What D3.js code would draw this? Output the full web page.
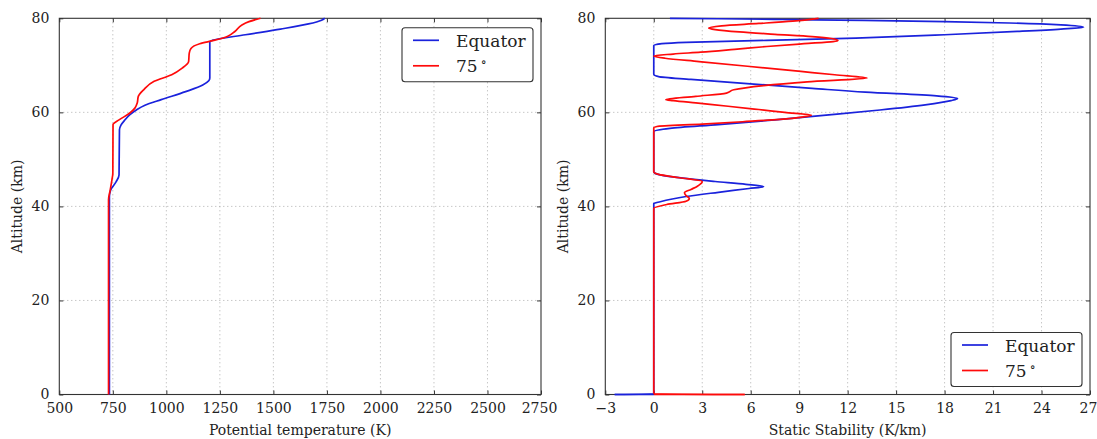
<!DOCTYPE html>
<html><head><meta charset="utf-8">
<script src="https://cdn.jsdelivr.net/npm/d3@7"></script>
<style>body{margin:0;background:#fff}</style>
</head><body><svg id="c" width="1097" height="439"></svg>
<script>
// ---------- data ----------
const altTicks = [0, 20, 40, 60, 80];
const thetaTicks = [500, 750, 1000, 1250, 1500, 1750, 2000, 2250, 2500, 2750];
const stabTicks = [-3, 0, 3, 6, 9, 12, 15, 18, 21, 24, 27];
const seriesNames = ["Equator", "75"];

// Potential temperature (K) vs altitude (km)
const thetaEqAlt = [0, 42.0, 43.5, 45.2, 46.7, 56.3, 57.3, 58.3, 59.5, 60.5, 61.5, 62.7, 64.4, 65.8, 66.7, 67.3, 75.0, 75.3, 76.5, 77.7, 78.8, 79.6, 80];
const thetaEqVal = [734, 734, 740, 765, 779, 781, 788, 805, 830, 860, 900, 976, 1090, 1170, 1198, 1203, 1203, 1215, 1369, 1533, 1664, 1725, 1740];
const theta75Alt = [0, 41.4, 43.5, 45.7, 47.0, 57.4, 58.4, 59.8, 60.9, 62.0, 63.4, 64.8, 66.6, 68.0, 69.4, 70.8, 72.6, 73.6, 74.6, 75.3, 76.2, 77.2, 78.6, 79.3, 80];
const theta75Val = [730, 730, 738, 746, 750, 751, 779, 828, 853, 864, 869, 894, 943, 1025, 1074, 1104, 1107, 1115, 1156, 1222, 1287, 1320, 1353, 1386, 1440];

// Static stability (K/km) vs altitude (km)
const stabEqAlt = [0, 0.1, 40.6, 41.0, 42.1, 43.0, 43.8, 44.2, 44.7, 45.3, 46.0, 46.7, 47.1, 47.4, 55.9, 56.6, 57.4, 58.4, 59.5, 60.5, 61.6, 62.5, 62.95, 63.5, 64.3, 65.1, 65.9, 67.0, 67.6, 68.1, 74.2, 74.6, 74.9, 75.3, 75.8, 76.5, 77.2, 77.7, 78.1, 78.6, 79.0, 79.3, 79.55, 79.75, 79.9, 80];
const stabEqVal = [-2.42, 0, 0, 0.4, 2.0, 4.0, 5.9, 6.8, 5.7, 3.8, 1.8, 0.4, 0.05, 0, 0, 1.0, 4.0, 7.5, 11.0, 14.0, 16.8, 18.4, 18.8, 17.5, 13.1, 9.8, 6.6, 2.3, 0.3, 0, 0, 0.5, 2.0, 7.0, 12.5, 18.0, 22.5, 25.2, 26.6, 25.2, 22.0, 18.0, 13.0, 8.0, 4.0, 1.0];
const stab75Alt = [0, 0.1, 39.6, 40.4, 41.1, 41.7, 42.3, 42.9, 43.6, 44.3, 45.3, 46.1, 46.8, 47.3, 56.7, 57.0, 57.5, 58.0, 58.5, 59.0, 59.4, 60.0, 60.6, 61.3, 62.0, 62.5, 62.7, 63.4, 64.1, 64.8, 65.7, 66.5, 67.3, 68.0, 68.7, 69.8, 70.8, 71.5, 72.0, 72.4, 72.8, 73.4, 74.0, 74.6, 75.05, 75.3, 75.7, 76.1, 76.6, 77.1, 77.6, 77.95, 78.4, 78.9, 79.4, 80];
const stab75Val = [5.63, 0, 0, 0.8, 2.0, 2.2, 2.0, 1.9, 2.3, 2.7, 3.0, 1.6, 0.3, 0, 0, 0.2, 3.0, 5.5, 7.8, 9.2, 9.75, 8.1, 6.5, 4.6, 2.6, 1.2, 0.75, 2.6, 4.5, 4.95, 6.8, 9.5, 13.2, 11.2, 9.1, 5.8, 2.8, 0.7, 0, 1.2, 2.9, 5.0, 7.0, 9.3, 11.1, 11.4, 11.0, 9.8, 7.5, 5.3, 3.8, 3.4, 4.2, 6.5, 8.6, 10.2];

const colors = ["#1a22dc", "#ff0a0a"];

// ---------- drawing ----------
const svg = d3.select("#c");
const FONT = "DejaVu Serif";
const yTop = 18.3, yBot = 394.5;

function zip(a, v) { return a.map((d, i) => ({ a: d, v: v[i] })); }

function panel(id, left, right, xDomain, xTicks, series, xLabel, legendAtTop) {
  const x = d3.scaleLinear().domain(xDomain).range([left, right]);
  const y = d3.scaleLinear().domain([0, 80]).range([yBot, yTop]);
  const g = svg.append("g");
  g.append("clipPath").attr("id", "clip" + id).append("rect")
    .attr("x", left).attr("y", yTop - 1.5).attr("width", right - left).attr("height", yBot - yTop + 3);

  // grid
  const grid = g.append("g").attr("stroke", "#9a9a9a").attr("stroke-width", 0.8).attr("stroke-dasharray", "1,3");
  xTicks.slice(1, -1).forEach(t => grid.append("line").attr("x1", x(t)).attr("x2", x(t)).attr("y1", yTop).attr("y2", yBot));
  altTicks.slice(1, -1).forEach(t => grid.append("line").attr("x1", left).attr("x2", right).attr("y1", y(t)).attr("y2", y(t)));

  // axes (ticks inside, all four sides)
  const tl = 4;
  const fmt = d3.format("d");
  g.append("g").attr("class", "xb").attr("transform", `translate(0,${yBot})`)
    .call(d3.axisBottom(x).tickValues(xTicks).tickFormat(fmt).tickSizeInner(-tl).tickSizeOuter(0).tickPadding(9))
    .call(a => a.select(".domain").remove());
  g.append("g").attr("transform", `translate(0,${yTop})`)
    .call(d3.axisTop(x).tickValues(xTicks).tickSizeInner(-tl).tickSizeOuter(0).tickFormat(""))
    .call(a => a.select(".domain").remove());
  g.append("g").attr("transform", `translate(${left},0)`)
    .call(d3.axisLeft(y).tickValues(altTicks).tickFormat(fmt).tickSizeInner(-tl).tickSizeOuter(0).tickPadding(10))
    .call(a => a.select(".domain").remove());
  g.append("g").attr("transform", `translate(${right},0)`)
    .call(d3.axisRight(y).tickValues(altTicks).tickSizeInner(-tl).tickSizeOuter(0).tickFormat(""))
    .call(a => a.select(".domain").remove());
  g.selectAll(".tick text").attr("font-family", FONT).attr("font-size", 14).attr("fill", "#222");
  g.selectAll(".tick line").attr("stroke", "#333");
  // keep the last bottom label inside the picture
  g.selectAll(".xb .tick text").filter((d, i, n) => i === n.length - 1).attr("dx", -2);

  // lines
  const line = d3.line().x(d => x(d.v)).y(d => y(d.a)).curve(d3.curveMonotoneY);
  const lg = g.append("g").attr("clip-path", `url(#clip${id})`);
  series.forEach((s, i) => {
    lg.append("path").datum(s).attr("d", line).attr("fill", "none")
      .attr("stroke", colors[i]).attr("stroke-width", 1.7).attr("stroke-linejoin", "round");
  });

  // frame
  g.append("rect").attr("x", left).attr("y", yTop).attr("width", right - left).attr("height", yBot - yTop)
    .attr("fill", "none").attr("stroke", "#333").attr("stroke-width", 1.1);
  // redraw series on top of bottom frame edge (as matplotlib lines sit above spines)
  series.forEach((s, i) => {
    const zero = s.filter(d => d.a <= 0.1);
    if (zero.length > 1) lg.append("path").datum(zero).attr("d", d3.line().x(d => x(d.v)).y(() => y(0)))
      .attr("fill", "none").attr("stroke", colors[i]).attr("stroke-width", 1.7);
  });
  lg.raise();

  // labels
  g.append("text").attr("x", (left + right) / 2).attr("y", 435).attr("text-anchor", "middle")
    .attr("font-family", FONT).attr("font-size", 14).attr("fill", "#222").text(xLabel);
  g.append("text").attr("transform", `translate(${left - 37},${(yTop + yBot) / 2}) rotate(-90)`)
    .attr("text-anchor", "middle").attr("font-family", FONT).attr("font-size", 14).attr("fill", "#222")
    .text("Altitude (km)");

  // legend
  const bw = 131, bh = 54;
  const bx = right - 8 - bw;
  const by = legendAtTop ? yTop + 9.5 : yBot - 8 - bh;
  const leg = g.append("g");
  leg.append("rect").attr("x", bx).attr("y", by).attr("width", bw).attr("height", bh).attr("rx", 3)
    .attr("fill", "#fff").attr("stroke", "#333").attr("stroke-width", 1.1);
  seriesNames.forEach((n, i) => {
    const ly = by + 12.5 + i * 25.5;
    leg.append("line").attr("x1", bx + 11).attr("x2", bx + 37).attr("y1", ly).attr("y2", ly)
      .attr("stroke", colors[i]).attr("stroke-width", 1.7);
    const t = leg.append("text").attr("x", bx + 54).attr("y", ly + 6.5)
      .attr("font-family", FONT).attr("font-size", 17).attr("fill", "#222").text(n);
    if (i === 1) t.append("tspan").attr("dx", 3).attr("dy", -6).attr("font-size", 12).text("∘");
  });
}

panel("a", 59.3, 541, [500, 2750], thetaTicks,
  [zip(thetaEqAlt, thetaEqVal), zip(theta75Alt, theta75Val)], "Potential temperature (K)", true);
panel("b", 605.3, 1090, [-3, 27], stabTicks,
  [zip(stabEqAlt, stabEqVal), zip(stab75Alt, stab75Val)], "Static Stability (K/km)", false);
</script>
</body></html>
